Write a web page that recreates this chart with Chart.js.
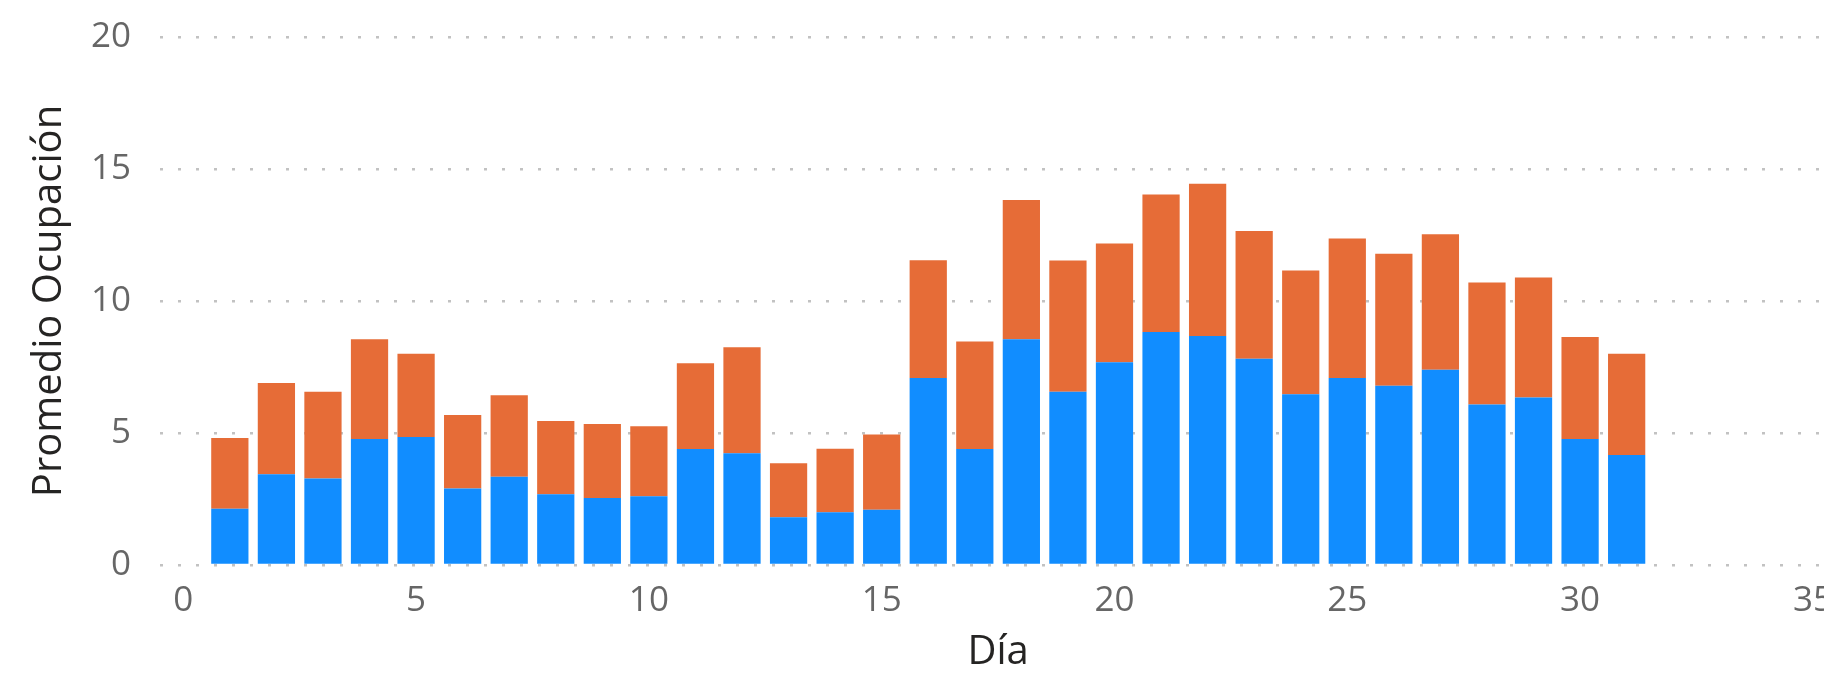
<!DOCTYPE html>
<html>
<head>
<meta charset="utf-8">
<script src="https://cdn.jsdelivr.net/npm/chart.js@4"></script>
<style>
  body { margin: 0; background: #fff; }
  #wrap { width: 1824px; height: 674px; overflow: hidden; }
</style>
</head>
<body>
<div id="wrap">
  <canvas id="occupancyChart" width="1848" height="677"></canvas>
</div>
<script>
// Days of the month and average occupancy, split in two stacked series
const days = [1, 2, 3, 4, 5, 6, 7, 8, 9, 10, 11, 12, 13, 14, 15, 16,
              17, 18, 19, 20, 21, 22, 23, 24, 25, 26, 27, 28, 29, 30, 31];
const blueValues = [2.13, 3.44, 3.28, 4.77, 4.85, 2.90, 3.34, 2.68, 2.54, 2.60,
                    4.39, 4.23, 1.81, 2.00, 2.09, 7.08, 4.39, 8.55, 6.56, 7.68,
                    8.83, 8.67, 7.81, 6.47, 7.08, 6.79, 7.40, 6.08, 6.34, 4.77, 4.17];
const orangeValues = [2.68, 3.45, 3.28, 3.78, 3.15, 2.78, 3.09, 2.77, 2.80, 2.66,
                      3.25, 4.02, 2.04, 2.40, 2.85, 4.46, 4.08, 5.28, 4.97, 4.50,
                      5.20, 5.77, 4.84, 4.69, 5.29, 5.00, 5.13, 4.62, 4.55, 3.87, 3.83];
const xTicks = [0, 5, 10, 15, 20, 25, 30, 35];
const yTicks = [0, 5, 10, 15, 20];

Chart.defaults.font.family = "'Open Sans', sans-serif";

const ctx = document.getElementById('occupancyChart').getContext('2d');

function toPoints(values) {
    return days.map((d, i) => ({ x: d, y: values[i] }));
}

new Chart(ctx, {
    type: 'bar',
    data: {
        datasets: [
            {
                label: 'Serie 1',
                data: toPoints(blueValues),
                backgroundColor: '#118DFF',
                borderWidth: 0,
            },
            {
                label: 'Serie 2',
                data: toPoints(orangeValues),
                backgroundColor: '#E66C37',
                borderWidth: 0,
            },
        ],
    },
    options: {
        responsive: false,
        animation: false,
        categoryPercentage: 1,
        barPercentage: 0.8,
        layout: {
            padding: { top: 37, right: 7, bottom: 0, left: 0 },
        },
        plugins: {
            legend: { display: false },
            tooltip: { enabled: false },
        },
        scales: {
            x: {
                type: 'linear',
                stacked: true,
                offset: false,
                min: -0.5,
                max: 35.5,
                afterBuildTicks: (axis) => {
                    axis.ticks = xTicks.map(v => ({ value: v }));
                },
                grid: { display: false, drawTicks: false },
                border: { display: false },
                ticks: {
                    color: '#666666',
                    font: { size: 35 },
                    padding: 15,
                    maxRotation: 0,
                },
                title: {
                    display: true,
                    text: 'Día',
                    color: '#252423',
                    font: { size: 40 },
                    padding: { top: -8, bottom: 0 },
                },
            },
            y: {
                stacked: true,
                min: 0,
                max: 20,
                afterBuildTicks: (axis) => {
                    axis.ticks = yTicks.map(v => ({ value: v }));
                },
                afterFit: (axis) => {
                    // fixed axis width, no extra room above the top label
                    axis.width = 160;
                    axis.paddingTop = 0;
                },
                grid: {
                    color: '#c2c2c2',
                    lineWidth: 2.5,
                    drawTicks: false,
                },
                border: { display: false, dash: [3, 15] },
                ticks: {
                    color: '#666666',
                    font: { size: 35 },
                    padding: 29,
                },
                title: {
                    display: true,
                    text: 'Promedio Ocupación',
                    color: '#252423',
                    font: { size: 40 },
                    padding: { top: 26, bottom: 0 },
                },
            },
        },
    },
});
</script>
</body>
</html>
